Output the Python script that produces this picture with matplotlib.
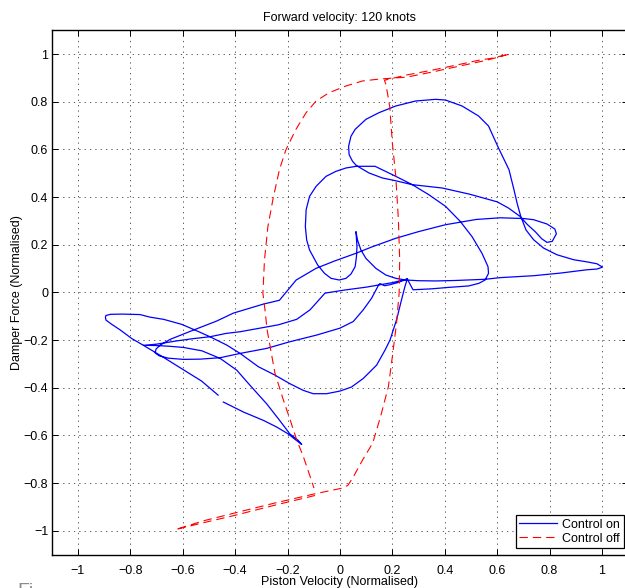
import numpy as np
import matplotlib
matplotlib.use("Agg")
import matplotlib.pyplot as plt

plt.rcParams['font.family'] = ['Liberation Sans', 'DejaVu Sans']

title = "Forward velocity: 120 knots"
x_label = "Piston Velocity (Normalised)"
y_label = "Damper Force (Normalised)"
legend_labels = ["Control on", "Control off"]

x_ticks = [-1, -0.8, -0.6, -0.4, -0.2, 0, 0.2, 0.4, 0.6, 0.8, 1]
x_tick_labels = ["\u22121", "\u22120.8", "\u22120.6", "\u22120.4", "\u22120.2", "0",
                 "0.2", "0.4", "0.6", "0.8", "1"]
y_ticks = [-1, -0.8, -0.6, -0.4, -0.2, 0, 0.2, 0.4, 0.6, 0.8, 1]
y_tick_labels = ["\u22121", "\u22120.8", "\u22120.6", "\u22120.4", "\u22120.2", "0",
                 "0.2", "0.4", "0.6", "0.8", "1"]

# ---- Control on (blue), traced piece by piece ----
on_mid_loop_x = [0.257, 0.279, 0.35, 0.415, 0.491, 0.530, 0.554, 0.567, 0.565, 0.542, 0.504, 0.459,
                 0.403, 0.339, 0.276, 0.213, 0.134, 0.063, 0.023, -0.015, -0.053, -0.091, -0.116,
                 -0.129, -0.132, -0.127, -0.116, -0.085, -0.059, -0.034, -0.003, 0.023, 0.042,
                 0.058, 0.063, 0.065, 0.061]
on_mid_loop_y = [0.056, 0.011, 0.015, 0.021, 0.027, 0.038, 0.052, 0.080, 0.108, 0.164, 0.234, 0.298,
                 0.361, 0.410, 0.452, 0.487, 0.529, 0.529, 0.522, 0.508, 0.487, 0.445, 0.403,
                 0.347, 0.276, 0.220, 0.178, 0.115, 0.080, 0.059, 0.052, 0.059, 0.077,
                 0.108, 0.150, 0.192, 0.255]

on_hook_x = [0.067, 0.080, 0.099, 0.137, 0.175, 0.213, 0.251, 0.301, 0.365, 0.44, 0.554, 0.612,
             0.739, 0.841, 0.943, 0.981, 1.002]
on_hook_y = [0.220, 0.178, 0.143, 0.101, 0.073, 0.059, 0.052, 0.049, 0.048, 0.050, 0.055, 0.062,
             0.070, 0.081, 0.095, 0.098, 0.106]

on_heart_x = [0.981, 0.943, 0.892, 0.828, 0.777, 0.739, 0.710, 0.690, 0.677, 0.664, 0.645, 0.605,
              0.567, 0.529, 0.466, 0.403, 0.365, 0.289, 0.213, 0.149, 0.099, 0.058, 0.042, 0.033,
              0.035]
on_heart_y = [0.120, 0.128, 0.137, 0.158, 0.186, 0.221, 0.262, 0.319, 0.370, 0.431, 0.515, 0.606,
              0.698, 0.740, 0.782, 0.807, 0.810, 0.803, 0.782, 0.754, 0.726, 0.684, 0.655, 0.613,
              0.578]

on_cross_x = [0.048, 0.063, 0.111, 0.162, 0.206, 0.276, 0.39, 0.495, 0.60, 0.643, 0.687, 0.715,
              0.745, 0.770, 0.790, 0.810, 0.826, 0.820, 0.79, 0.739, 0.701, 0.612, 0.52, 0.403,
              0.30, 0.213, 0.12, 0.061, -0.02, -0.091, -0.167, -0.231, -0.292, -0.356, -0.407,
              -0.47, -0.559, -0.648, -0.686, -0.702, -0.705, -0.690, -0.655, -0.597, -0.534,
              -0.457, -0.381, -0.28, -0.191, -0.089, 0.0, 0.051, 0.089, 0.121, 0.146, 0.152,
              0.170, 0.190, 0.220, 0.257]
on_cross_y = [0.550, 0.532, 0.501, 0.480, 0.470, 0.452, 0.438, 0.412, 0.380, 0.354, 0.319, 0.285,
              0.255, 0.225, 0.210, 0.214, 0.246, 0.266, 0.287, 0.305, 0.310, 0.313, 0.306, 0.284,
              0.255, 0.227, 0.19, 0.164, 0.132, 0.101, 0.052, -0.033, -0.049, -0.07, -0.087,
              -0.12, -0.158, -0.197, -0.221, -0.238, -0.254, -0.266, -0.276, -0.281, -0.280,
              -0.274, -0.256, -0.235, -0.207, -0.179, -0.150, -0.122, -0.073, -0.024, 0.028, 0.037,
              0.028, 0.032, 0.041, 0.056]

on_u_loop_x = [0.248, 0.235, 0.216, 0.191, 0.172, 0.14, 0.089, 0.044, 0.0, -0.051, -0.102, -0.14,
               -0.191, -0.248, -0.311, -0.381, -0.432, -0.496, -0.553, -0.604, -0.673, -0.724,
               -0.763, -0.83, -0.876, -0.893, -0.895]
on_u_loop_y = [0.025, -0.031, -0.115, -0.2, -0.242, -0.305, -0.361, -0.397, -0.414, -0.425, -0.425,
               -0.411, -0.383, -0.347, -0.312, -0.256, -0.221, -0.186, -0.158, -0.134, -0.113,
               -0.104, -0.093, -0.091, -0.092, -0.097, -0.104]

on_tip_down_x = [-0.893, -0.876, -0.838, -0.794, -0.75, -0.68, -0.604, -0.528, -0.465, np.nan,
                 -0.445, -0.368, -0.292, -0.241, -0.197, -0.165, -0.146]
on_tip_down_y = [-0.116, -0.130, -0.158, -0.194, -0.222, -0.268, -0.32, -0.372, -0.431, np.nan,
                 -0.46, -0.502, -0.537, -0.565, -0.594, -0.622, -0.638]

on_tip_back_x = [-0.16, -0.191, -0.235, -0.28, -0.343, -0.394, -0.457, -0.527, -0.597, -0.65,
                 -0.70, -0.75]
on_tip_back_y = [-0.62, -0.594, -0.53, -0.467, -0.39, -0.326, -0.277, -0.245, -0.231, -0.226,
                 -0.223, -0.222]

on_right_x = [-0.699, -0.62, -0.56, -0.496, -0.434, -0.381, -0.305, -0.235, -0.165, -0.114, -0.057,
              0.025, 0.10, 0.152, 0.20, 0.257]
on_right_y = [-0.217, -0.203, -0.194, -0.186, -0.172, -0.165, -0.15, -0.136, -0.113, -0.073, -0.003,
              0.011, 0.022, 0.032, 0.041, 0.056]

# ---- Control off (red dashed) ----
off_lower_x = [-0.095, -0.25, -0.40, -0.52, -0.628, -0.52, -0.40, -0.25, -0.10, 0.005, 0.03]
off_lower_y = [-0.852, -0.893, -0.935, -0.966, -0.995, -0.958, -0.925, -0.884, -0.846, -0.822, -0.81]

off_rise_x = [0.052, 0.087, 0.125, 0.155, 0.185, 0.2, 0.216, 0.226, 0.228, 0.223, 0.213, 0.2, 0.19,
              0.181, 0.175, 0.17]
off_rise_y = [-0.772, -0.702, -0.632, -0.521, -0.395, -0.269, -0.129, 0.0, 0.136, 0.305, 0.487, 0.627,
              0.779, 0.838, 0.873, 0.89]

off_upper_x = [0.254, 0.35, 0.45, 0.534, 0.578, 0.616, 0.648, 0.56, 0.45, 0.35, 0.254, 0.15]
off_upper_y = [0.912, 0.932, 0.955, 0.975, 0.982, 0.992, 1.0, 0.974, 0.948, 0.924, 0.903, 0.895]

off_fall_x = [0.086, 0.023, -0.041, -0.091, -0.129, -0.168, -0.206, -0.231, -0.256, -0.275, -0.288,
              -0.294, -0.286, -0.278, -0.248, -0.216, -0.19, -0.165, -0.14, -0.114, -0.099]
off_fall_y = [0.887, 0.866, 0.838, 0.803, 0.754, 0.684, 0.599, 0.515, 0.389, 0.276, 0.136,
              -0.004, -0.073, -0.157, -0.339, -0.451, -0.535, -0.619, -0.688, -0.772, -0.821]

on_x = np.concatenate([on_mid_loop_x, on_hook_x, on_heart_x, on_cross_x, on_u_loop_x,
                       on_tip_down_x, on_tip_back_x, on_right_x])
on_y = np.concatenate([on_mid_loop_y, on_hook_y, on_heart_y, on_cross_y, on_u_loop_y,
                       on_tip_down_y, on_tip_back_y, on_right_y])
off_x = np.concatenate([off_lower_x, off_rise_x, off_upper_x, off_fall_x])
off_y = np.concatenate([off_lower_y, off_rise_y, off_upper_y, off_fall_y])

W, H = 625, 588
fig = plt.figure(figsize=(W / 100, H / 100), dpi=100)
ax = fig.add_axes([51.7 / W, (H - 554.6) / H, (628.2 - 51.7) / W, (554.6 - 30.2) / H])

ax.plot(on_x, on_y, color=(0, 0, 1), lw=0.9, label=legend_labels[0])
ax.plot(off_x, off_y, color=(1, 0, 0), lw=0.8, ls=(0, (7.5, 4.5)), label=legend_labels[1])

ax.set_xlim(-1.1, 1.1)
ax.set_ylim(-1.1, 1.1)
ax.set_xticks(x_ticks)
ax.set_xticklabels(x_tick_labels)
ax.set_yticks(y_ticks)
ax.set_yticklabels(y_tick_labels)
ax.tick_params(direction='in', length=4, width=0.7, top=True, right=True, labelsize=9, colors='black')
ax.tick_params(axis='x', pad=7.5)
ax.tick_params(axis='y', pad=2.5)
ax.grid(True, color='0.35', lw=0.7, ls=(0, (1.3, 4.2)))
for s in ax.spines.values():
    s.set_linewidth(1.0)
    s.set_color('black')

ax.set_title(title, fontsize=9, pad=6.5)
ax.set_xlabel(x_label, fontsize=9)
ax.set_ylabel(y_label, fontsize=9)
ax.xaxis.set_label_coords(0.5, -0.040)
ax.yaxis.set_label_coords(-0.05, 0.5)

leg = ax.legend(loc='lower right', bbox_to_anchor=(623.5 / W, (H - 548.3) / H),
                bbox_transform=fig.transFigure, borderaxespad=0, fontsize=9,
                fancybox=False, framealpha=1, edgecolor='black', borderpad=0.3,
                labelspacing=0.15, handlelength=3.0, handletextpad=0.4)
leg.get_frame().set_linewidth(0.9)

fig.text(17 / W, (H - 583.5) / H, "Fi", fontsize=14, color='0.55', va='top', ha='left')

fig.savefig("out.png", dpi=100)
